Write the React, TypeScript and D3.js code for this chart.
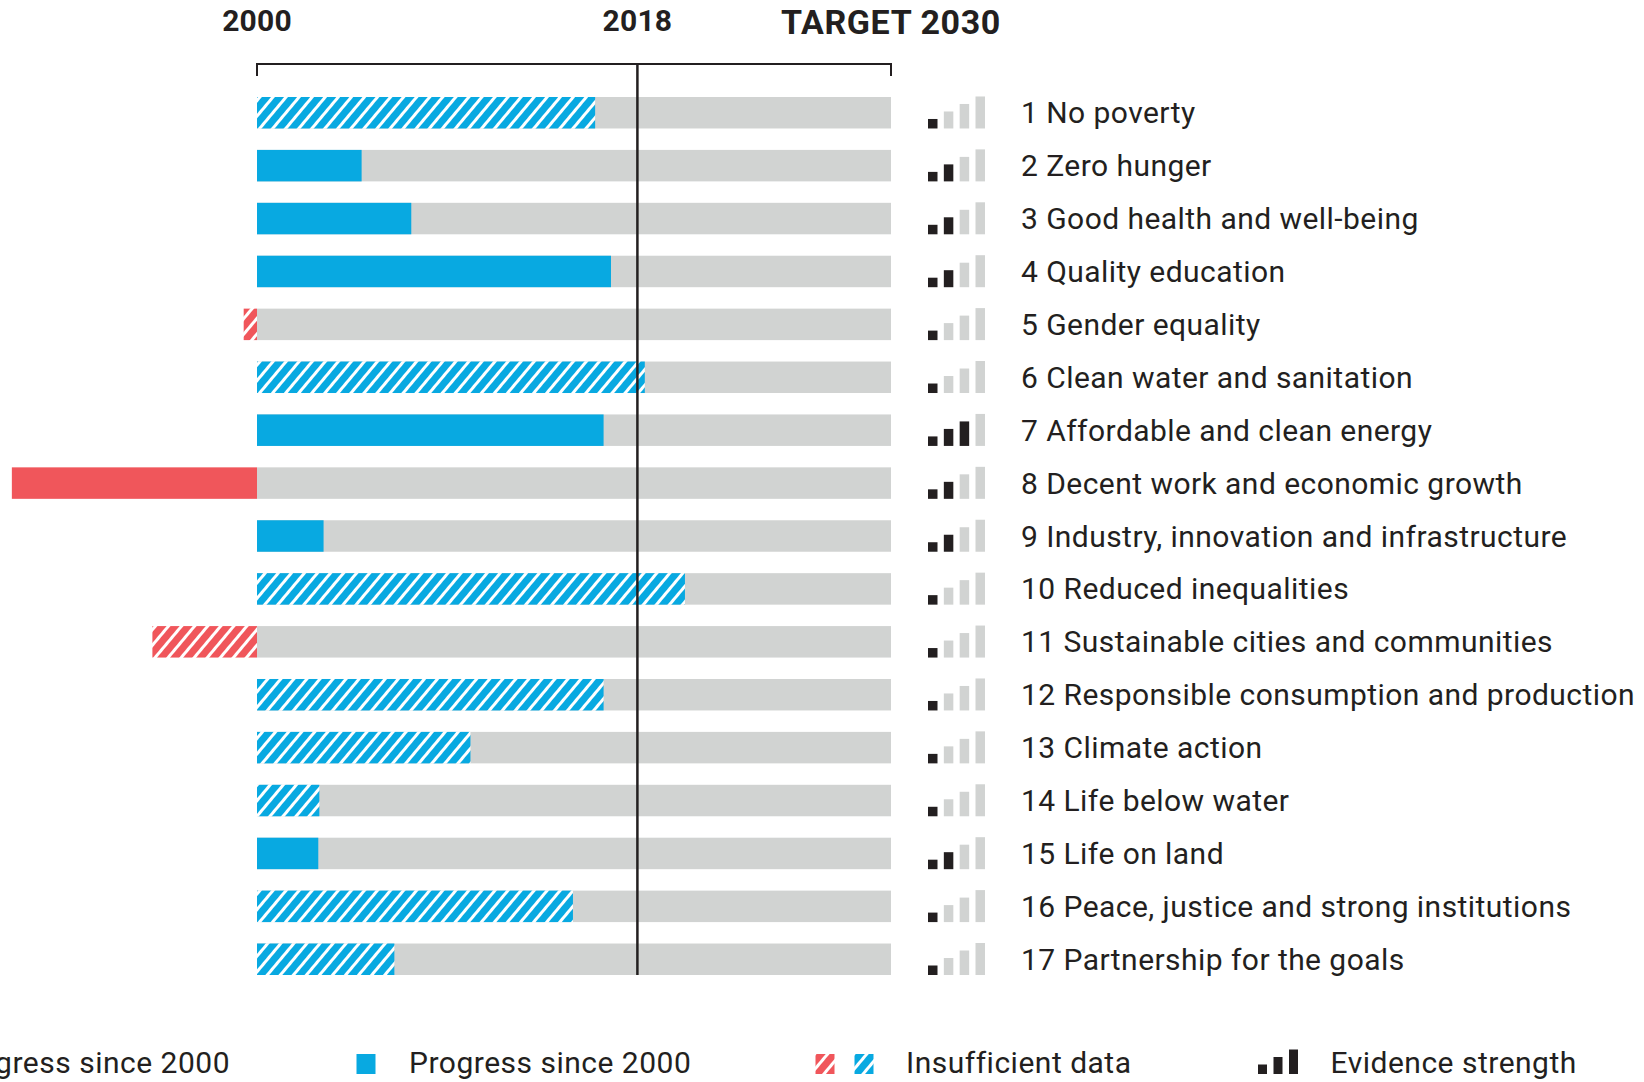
import React from "react";
import * as d3 from "d3";

const goals = [
  "1 No poverty",
  "2 Zero hunger",
  "3 Good health and well-being",
  "4 Quality education",
  "5 Gender equality",
  "6 Clean water and sanitation",
  "7 Affordable and clean energy",
  "8 Decent work and economic growth",
  "9 Industry, innovation and infrastructure",
  "10 Reduced inequalities",
  "11 Sustainable cities and communities",
  "12 Responsible consumption and production",
  "13 Climate action",
  "14 Life below water",
  "15 Life on land",
  "16 Peace, justice and strong institutions",
  "17 Partnership for the goals",
];
// progress measured in years since 2000 (negative = regress)
const progress = [16.0, 4.95, 7.3, 16.75, -0.63, 18.35, 16.4, -11.6, 3.15, 20.25, -4.95, 16.4, 10.1, 2.95, 2.9, 14.95, 6.5];
// true = insufficient data (hatched)
const insufficient = [true, false, false, false, true, true, false, false, false, true, true, true, true, true, false, true, true];
// evidence strength: number of dark bars out of 4
const evidence = [1, 2, 2, 2, 1, 1, 3, 2, 2, 1, 1, 1, 1, 1, 2, 1, 1];

const yearTicks = [
  { year: 2000, label: "2000" },
  { year: 2018, label: "2018" },
  { year: 2030, label: "TARGET 2030" },
];
const legendItems = ["Regress since 2000", "Progress since 2000", "Insufficient data", "Evidence strength"];

const BLUE = "#08a9e1";
const RED = "#f0565b";
const GRAY = "#d1d3d2";
const INK = "#231f20";
const FONT = "Roboto, 'Noto Sans', sans-serif";

export default function App() {
  const W = 1644;
  const H = 1082;
  const x = d3.scaleLinear().domain([2000, 2030]).range([257, 891]);
  const y = d3.scaleBand<string>().domain(goals).range([97, 975]).paddingInner(0.405).paddingOuter(0);
  const bw = y.bandwidth();
  const evX = d3.scaleBand<number>().domain([0, 1, 2, 3]).range([928, 985]).paddingInner(0.4);
  const evH = d3.scaleLinear().domain([0, 3]).range([9.5, 32]);
  const lastY = (y(goals[goals.length - 1]) as number) + bw;

  return (
    <svg width={W} height={H} style={{ position: "absolute", left: 0, top: 0, background: "#fff" }} fontFamily={FONT}>
      <defs>
        <pattern id="hatchBlue" patternUnits="userSpaceOnUse" width={10} height={10} patternTransform="rotate(40)">
          <rect x={0} y={0} width={10} height={10} fill={BLUE} />
          <rect x={0} y={0} width={3} height={10} fill="#fff" />
        </pattern>
        <pattern id="hatchRed" patternUnits="userSpaceOnUse" width={10} height={10} patternTransform="rotate(40)">
          <rect x={0} y={0} width={10} height={10} fill={RED} />
          <rect x={0} y={0} width={3} height={10} fill="#fff" />
        </pattern>
      </defs>

      {/* year headers */}
      {yearTicks.map((t) => (
        <text
          key={t.label}
          x={x(t.year)}
          y={t.year === 2030 ? 34 : 31}
          textAnchor="middle"
          fontWeight={700}
          fontSize={t.year === 2030 ? 34 : 30}
          letterSpacing={t.year === 2030 ? 0.6 : 0.2}
          fill={INK}
        >
          {t.label}
        </text>
      ))}

      {/* bracket */}
      <path
        d={`M${x(2000)},76 V64 H${x(2030)} V76`}
        fill="none"
        stroke={INK}
        strokeWidth={2}
      />

      {/* bars */}
      {goals.map((g, i) => {
        const yy = y(g) as number;
        const v = progress[i];
        const x0 = x(2000 + Math.min(0, v));
        const x1 = x(2000 + Math.max(0, v));
        const neg = v < 0;
        const fill = insufficient[i] ? (neg ? "url(#hatchRed)" : "url(#hatchBlue)") : neg ? RED : BLUE;
        return (
          <g key={g}>
            <rect x={x(2000)} y={yy} width={x(2030) - x(2000)} height={bw} fill={GRAY} />
            <rect x={x0} y={yy} width={x1 - x0} height={bw} fill={fill} />
          </g>
        );
      })}

      {/* 2018 line */}
      <line x1={x(2018)} x2={x(2018)} y1={64} y2={lastY} stroke={INK} strokeWidth={2.5} />

      {/* evidence icons and labels */}
      {goals.map((g, i) => {
        const yy = y(g) as number;
        const bottom = yy + bw;
        return (
          <g key={"ev" + g}>
            {[0, 1, 2, 3].map((k) => (
              <rect
                key={k}
                x={evX(k)}
                y={bottom - evH(k)}
                width={evX.bandwidth()}
                height={evH(k)}
                fill={k < evidence[i] ? INK : GRAY}
              />
            ))}
            <text x={1021} y={yy + bw / 2 + 10.5} fontSize={30} letterSpacing={0.45} fill={INK}>
              {g}
            </text>
          </g>
        );
      })}

      {/* legend */}
      <g fontSize={30} letterSpacing={0.5} fill={INK}>
        <rect x={-108} y={1054} width={19} height={20} fill={RED} />
        <text x={230} y={1072.5} textAnchor="end">{legendItems[0]}</text>
        <rect x={356.5} y={1054} width={19} height={20} fill={BLUE} />
        <text x={409} y={1072.5}>{legendItems[1]}</text>
        <rect x={815.5} y={1054} width={19} height={20} fill="url(#hatchRed)" />
        <rect x={854.5} y={1054} width={19} height={20} fill="url(#hatchBlue)" />
        <text x={906} y={1072.5}>{legendItems[2]}</text>
        {[0, 1, 2].map((k) => (
          <rect
            key={k}
            x={1258 + k * 15.5}
            y={1074 - evH(k)}
            width={9}
            height={evH(k)}
            fill={INK}
          />
        ))}
        <text x={1330.5} y={1072.5}>{legendItems[3]}</text>
      </g>
    </svg>
  );
}
